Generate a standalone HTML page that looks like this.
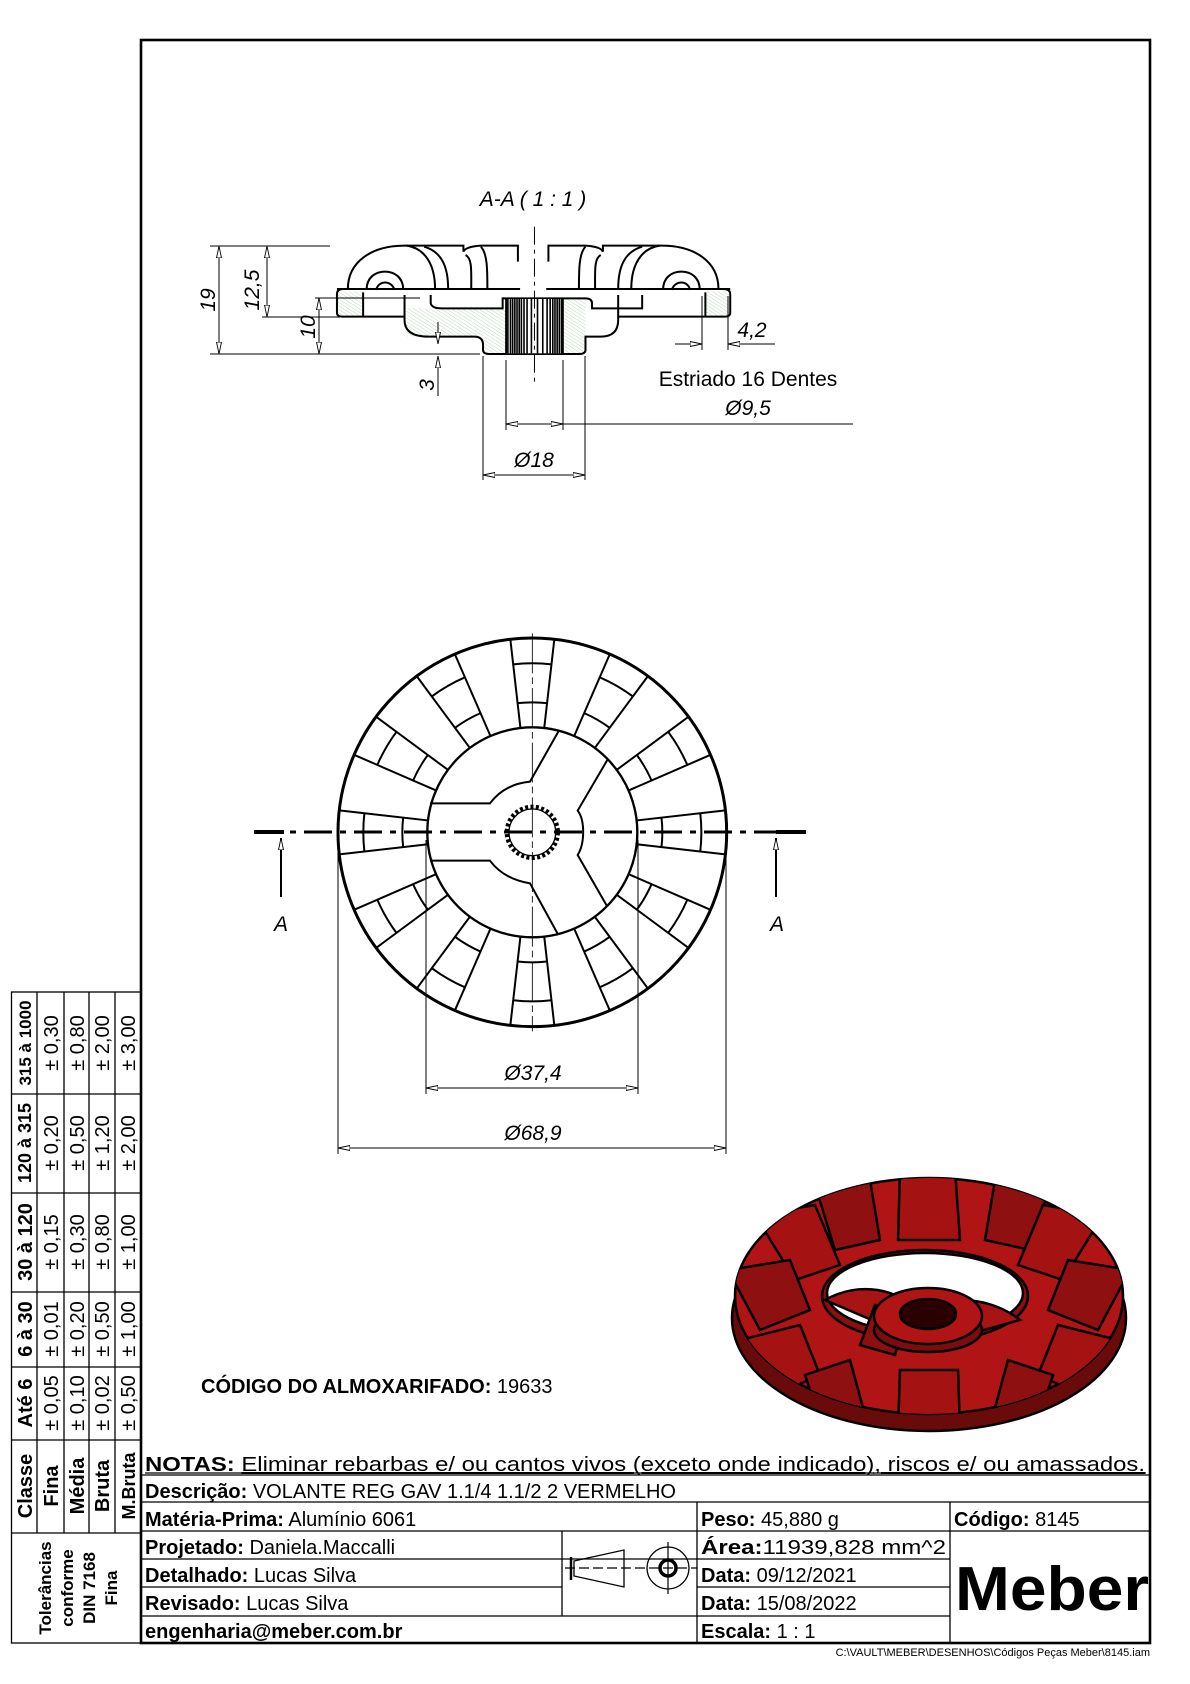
<!DOCTYPE html>
<html><head><meta charset="utf-8"><style>
html,body{margin:0;padding:0;background:#fff;}
svg{display:block;}
text{font-family:"Liberation Sans",Arial,sans-serif;fill:#000;}
.it{font-style:italic;}
.b{font-weight:bold;}
.ns{vector-effect:non-scaling-stroke;}
</style></head><body>
<svg width="1190" height="1684" viewBox="0 0 1190 1684" xmlns="http://www.w3.org/2000/svg">
<defs>
<marker id="ar" viewBox="0 0 12 6" refX="12" refY="3" markerWidth="12" markerHeight="6" orient="auto-start-reverse" markerUnits="userSpaceOnUse">
<path d="M0,0.5 L12,3 L0,5.5 Z" fill="#fff" stroke="#000" stroke-width="0.9"/>
</marker>
<pattern id="hat" width="8" height="8" patternUnits="userSpaceOnUse" patternTransform="rotate(-50)">
<line x1="0" y1="0" x2="0" y2="8" stroke="#4a9a4a" stroke-width="1"/>
</pattern>
<g id="rib">
<line x1="601.3" y1="324" x2="571" y2="57.7"/>
<line x1="672.7" y1="324" x2="703" y2="57.7"/>
<path d="M592.9,249.5 A390,390 0 0 1 681.1,249.5" fill="none"/>
<path d="M579.6,133.2 A507,507 0 0 1 694.4,133.2" fill="none"/>
</g>
<clipPath id="topc"><ellipse cx="929" cy="1296" rx="194" ry="118"/></clipPath>
</defs>

<!-- frame -->
<rect x="141" y="40" width="1009" height="1603" fill="none" stroke="#000" stroke-width="2.6"/>

<!-- SECTION VIEW -->
<text x="533" y="206" font-size="21" class="it" text-anchor="middle">A-A ( 1 : 1 )</text>
<g transform="translate(180 180) scale(0.436 0.3333)" fill="none" stroke="#000">
<rect x="362" y="335" width="58" height="72" fill="url(#hat)" stroke="none"/>
<rect x="520" y="385" width="228" height="84" fill="url(#hat)" stroke="none"/>
<rect x="695" y="470" width="53" height="50" fill="url(#hat)" stroke="none"/>
<rect x="878" y="357" width="52" height="163" fill="url(#hat)" stroke="none"/>
<rect x="1205" y="335" width="55" height="72" fill="url(#hat)" stroke="none"/>
<g stroke-width="2" class="ns">
<path class="ns" d="M385,327 C385,245 440,197 515,197 L650,197 L650,215 Q655,200 690,197 L775,197 L775,245"/>
<path class="ns" d="M1235,327 C1235,245 1180,197 1105,197 L970,197 L970,215 Q965,200 930,197 L845,197 L845,245"/>
<path class="ns" d="M520,197 C560,205 585,250 585,327 M560,200 C600,215 615,260 615,327 M655,225 C670,235 668,270 668,327 M690,200 C705,220 705,270 705,327"/>
<path class="ns" d="M1100,197 C1060,205 1035,250 1035,327 M1060,200 C1020,215 1005,260 1005,327 M965,225 C950,235 952,270 952,327 M930,200 C915,220 915,270 915,327"/>
<path class="ns" d="M428,330 C428,290 450,275 470,275 C490,275 512,290 512,330 M450,330 C455,300 485,300 492,330"/>
<path class="ns" d="M1192,330 C1192,290 1170,275 1150,275 C1130,275 1108,290 1108,330 M1170,330 C1165,300 1135,300 1128,330"/>
<path class="ns" d="M360,327 L780,327 M840,327 L1262,327"/>
<path class="ns" d="M375,327 Q360,327 360,342 L360,398 Q360,410 372,410 L515,410"/>
<path class="ns" d="M1245,327 Q1262,327 1262,342 L1262,398 Q1262,410 1250,410 L1005,410"/>
<path class="ns" d="M515,345 L515,420 C515,455 535,470 570,470 L675,470 C690,470 695,480 695,495 L695,510 Q695,522 710,522 L915,522 Q930,522 930,510 L930,470 L965,470 C990,470 1005,455 1005,420 L1005,345"/>
<path class="ns" d="M575,345 L575,370 Q578,385 600,385 L740,385 L740,355 L930,355 Q945,355 945,370 L945,385 L1060,385 L1060,345"/>
<path class="ns" d="M420,337 L420,408 M1205,337 L1205,408"/>
</g>
<rect x="748" y="357" width="130" height="163" fill="#fff" stroke="none"/>
<path class="ns" stroke-width="1.6" d="M752,357V520 M758,357V520 M763,357V520 M768,357V520 M773,357V520 M778,357V520 M783,357V520 M789,357V520 M796,357V520 M806,357V520 M820,357V520 M832,357V520 M842,357V520 M849,357V520 M855,357V520 M860,357V520 M865,357V520 M870,357V520 M875,357V520"/>
<path class="ns" stroke-width="2" d="M748,357V520 M878,357V520"/>
<line class="ns" x1="813" y1="140" x2="813" y2="605" stroke-width="1" stroke-dasharray="18 5 4 5"/>
</g>

<!-- section dims -->
<g stroke="#000" stroke-width="1" fill="none">
<line x1="210" y1="246" x2="330" y2="246"/>
<line x1="210" y1="354" x2="480" y2="354"/>
<line x1="262" y1="317" x2="340" y2="317"/>
<line x1="315" y1="298" x2="420" y2="298"/>
<line x1="219" y1="246" x2="219" y2="354" marker-start="url(#ar)" marker-end="url(#ar)"/>
<line x1="267" y1="246" x2="267" y2="317" marker-start="url(#ar)" marker-end="url(#ar)"/>
<line x1="319" y1="298" x2="319" y2="354" marker-start="url(#ar)" marker-end="url(#ar)"/>
<line x1="438" y1="322" x2="438" y2="344" marker-end="url(#ar)"/>
<line x1="438" y1="396" x2="438" y2="356" marker-end="url(#ar)"/>
<line x1="702" y1="296" x2="702" y2="350"/>
<line x1="728" y1="296" x2="728" y2="350"/>
<line x1="675" y1="344" x2="702" y2="344" marker-end="url(#ar)"/>
<line x1="775" y1="344" x2="728" y2="344" marker-end="url(#ar)"/>
<line x1="483" y1="356" x2="483" y2="480"/>
<line x1="585" y1="356" x2="585" y2="480"/>
<line x1="506" y1="360" x2="506" y2="430"/>
<line x1="563" y1="360" x2="563" y2="430"/>
<line x1="483" y1="475" x2="585" y2="475" marker-start="url(#ar)" marker-end="url(#ar)"/>
<line x1="506" y1="424" x2="563" y2="424" marker-start="url(#ar)" marker-end="url(#ar)"/>
<line x1="563" y1="424" x2="853" y2="424"/>
</g>
<text transform="translate(215 300) rotate(-90)" font-size="21" class="it" text-anchor="middle">19</text>
<text transform="translate(259 290) rotate(-90)" font-size="21" class="it" text-anchor="middle">12,5</text>
<text transform="translate(315 327) rotate(-90)" font-size="21" class="it" text-anchor="middle">10</text>
<text transform="translate(434 385) rotate(-90)" font-size="21" class="it" text-anchor="middle">3</text>
<text x="752" y="337" font-size="21" class="it" text-anchor="middle">4,2</text>
<text x="748" y="386" font-size="21" text-anchor="middle">Estriado 16 Dentes</text>
<text x="748" y="415" font-size="21" class="it" text-anchor="middle">Ø9,5</text>
<text x="534" y="467" font-size="21" class="it" text-anchor="middle">Ø18</text>

<!-- TOP VIEW -->
<g transform="translate(320 620) scale(0.33333)" fill="none" stroke="#000">
<g stroke-width="6">
<use href="#rib"/>
<use href="#rib" transform="rotate(30 637 637)"/>
<use href="#rib" transform="rotate(60 637 637)"/>
<use href="#rib" transform="rotate(90 637 637)"/>
<use href="#rib" transform="rotate(120 637 637)"/>
<use href="#rib" transform="rotate(150 637 637)"/>
<use href="#rib" transform="rotate(180 637 637)"/>
<use href="#rib" transform="rotate(210 637 637)"/>
<use href="#rib" transform="rotate(240 637 637)"/>
<use href="#rib" transform="rotate(270 637 637)"/>
<use href="#rib" transform="rotate(300 637 637)"/>
<use href="#rib" transform="rotate(330 637 637)"/>
</g>
<circle cx="637" cy="637" r="315" fill="#fff" stroke-width="7"/>
<circle cx="637" cy="637" r="583" stroke-width="9"/>
<g stroke-width="6">
<path d="M330,550 L510,550 C540,510 580,490 630,485 L715,335"/>
<path d="M330,722 L510,722 C540,762 580,782 630,790 L715,945"/>
<path d="M862,420 L773,572 C795,600 795,670 773,705 L862,860"/>
</g>
<circle cx="637" cy="637" r="76" stroke-width="14" stroke-dasharray="9 7"/>
<circle cx="637" cy="637" r="70" stroke-width="4"/>
<line x1="637" y1="40" x2="637" y2="1234" stroke-width="2.5" stroke-dasharray="120 12 20 12"/>
</g>
<!-- section line -->
<g stroke="#000" fill="none">
<line x1="254" y1="832" x2="806" y2="832" stroke-width="3" stroke-dasharray="28 8 6 8"/>
<line x1="254" y1="832" x2="284" y2="832" stroke-width="4"/>
<line x1="776" y1="832" x2="806" y2="832" stroke-width="4"/>
<line x1="281" y1="897" x2="281" y2="838" stroke-width="2" marker-end="url(#ar)"/>
<line x1="776" y1="897" x2="776" y2="838" stroke-width="2" marker-end="url(#ar)"/>
</g>
<text x="281" y="931" font-size="21" class="it" text-anchor="middle">A</text>
<text x="777" y="931" font-size="21" class="it" text-anchor="middle">A</text>
<!-- diameter dims -->
<g stroke="#000" stroke-width="1" fill="none">
<line x1="426" y1="840" x2="426" y2="1094"/>
<line x1="638" y1="840" x2="638" y2="1094"/>
<line x1="338" y1="834" x2="338" y2="1154"/>
<line x1="726" y1="834" x2="726" y2="1154"/>
<line x1="426" y1="1088" x2="638" y2="1088" marker-start="url(#ar)" marker-end="url(#ar)"/>
<line x1="338" y1="1148" x2="726" y2="1148" marker-start="url(#ar)" marker-end="url(#ar)"/>
</g>
<text x="533" y="1080" font-size="21" class="it" text-anchor="middle">Ø37,4</text>
<text x="533" y="1140" font-size="21" class="it" text-anchor="middle">Ø68,9</text>

<!-- 3D render -->
<g stroke="#000" stroke-width="2.5">
<ellipse cx="929" cy="1318" rx="197" ry="113" fill="#6a0b0b"/>
<ellipse cx="929" cy="1296" rx="194" ry="118" fill="#b01414"/>
</g>
<g clip-path="url(#topc)" stroke="#000" stroke-width="2.5" fill="#a51212">
<path d="M900,1170 L955,1170 L960,1240 L898,1240 Z"/>
<path d="M815,1185 L870,1180 L880,1240 L835,1250 Z" fill="#8e1010"/>
<path d="M995,1180 L1050,1185 L1030,1250 L985,1240 Z" fill="#8e1010"/>
<path d="M755,1215 L815,1205 L840,1265 L795,1280 Z"/>
<path d="M1043,1205 L1103,1215 L1063,1280 L1018,1265 Z"/>
<path d="M728,1270 L790,1260 L810,1310 L760,1330 Z" fill="#8e1010"/>
<path d="M1068,1260 L1130,1270 L1098,1330 L1048,1310 Z" fill="#8e1010"/>
<path d="M740,1340 L800,1325 L820,1375 L775,1395 Z"/>
<path d="M1058,1325 L1118,1340 L1083,1395 L1038,1375 Z"/>
<path d="M805,1375 L850,1360 L865,1415 L820,1420 Z" fill="#8e1010"/>
<path d="M1008,1360 L1053,1375 L1038,1420 L993,1415 Z" fill="#8e1010"/>
<path d="M900,1370 L958,1370 L960,1430 L898,1430 Z"/>
</g>
<g stroke="#000" stroke-width="2.5">
<ellipse cx="925" cy="1296" rx="103" ry="46" fill="#8c1010"/>
<ellipse cx="925" cy="1293" rx="98" ry="40" fill="#fff"/>
<path d="M825,1300 C860,1280 900,1290 915,1310 L960,1300 C990,1300 1010,1312 1020,1320 L930,1345 Z" fill="#a81313"/>
<path d="M875,1305 L905,1320 L895,1355 L860,1345 Z" fill="#8c1010"/>
<ellipse cx="928" cy="1330" rx="54" ry="22" fill="#7a0d0d"/>
<ellipse cx="928" cy="1316" rx="54" ry="28" fill="#b01414"/>
<ellipse cx="928" cy="1314" rx="28" ry="15" fill="#2a0000"/>
</g>

<text x="201" y="1393" font-size="20"><tspan class="b">CÓDIGO DO ALMOXARIFADO:</tspan> 19633</text>

<!-- title block -->
<g stroke="#000" stroke-width="1.3" fill="none">
<line x1="141" y1="1475" x2="1150" y2="1475"/>
<line x1="141" y1="1502" x2="1150" y2="1502"/>
<line x1="141" y1="1531" x2="1150" y2="1531"/>
<line x1="141" y1="1559" x2="950" y2="1559"/>
<line x1="141" y1="1587" x2="562" y2="1587"/>
<line x1="697" y1="1587" x2="950" y2="1587"/>
<line x1="141" y1="1616" x2="950" y2="1616"/>
<line x1="562" y1="1531" x2="562" y2="1616"/>
<line x1="697" y1="1502" x2="697" y2="1643"/>
<line x1="950" y1="1502" x2="950" y2="1643"/>
</g>
<text x="145" y="1471" font-size="20" textLength="1000" lengthAdjust="spacingAndGlyphs"><tspan class="b">NOTAS:</tspan> <tspan text-decoration="underline">Eliminar rebarbas e/ ou cantos vivos (exceto onde indicado), riscos e/ ou amassados.</tspan></text>
<line x1="145" y1="1473" x2="1146" y2="1473" stroke="#000" stroke-width="1.2"/>
<text x="145" y="1498" font-size="20"><tspan class="b">Descrição:</tspan> VOLANTE REG GAV 1.1/4 1.1/2 2 VERMELHO</text>
<text x="145" y="1526" font-size="20"><tspan class="b">Matéria-Prima:</tspan> Alumínio 6061</text>
<text x="145" y="1554" font-size="20"><tspan class="b">Projetado:</tspan> Daniela.Maccalli</text>
<text x="145" y="1582" font-size="20"><tspan class="b">Detalhado:</tspan> Lucas Silva</text>
<text x="145" y="1610" font-size="20"><tspan class="b">Revisado:</tspan> Lucas Silva</text>
<text x="145" y="1638" font-size="20" class="b">engenharia@meber.com.br</text>
<text x="701" y="1526" font-size="20"><tspan class="b">Peso:</tspan> 45,880 g</text>
<text x="701" y="1554" font-size="20" textLength="245" lengthAdjust="spacingAndGlyphs"><tspan class="b">Área:</tspan>11939,828 mm^2</text>
<text x="701" y="1582" font-size="20"><tspan class="b">Data:</tspan> 09/12/2021</text>
<text x="701" y="1610" font-size="20"><tspan class="b">Data:</tspan> 15/08/2022</text>
<text x="701" y="1638" font-size="20"><tspan class="b">Escala:</tspan> 1 : 1</text>
<text x="954" y="1526" font-size="20"><tspan class="b">Código:</tspan> 8145</text>
<text x="955" y="1610" font-size="62" class="b" textLength="194" lengthAdjust="spacingAndGlyphs">Meber</text>
<text x="1150" y="1656" font-size="11" text-anchor="end">C:\VAULT\MEBER\DESENHOS\Códigos Peças Meber\8145.iam</text>
<!-- projection symbol -->
<g stroke="#000" fill="none">
<path d="M574,1561 L624,1550 L624,1587 L574,1576 Z" stroke-width="1.3"/>
<line x1="571" y1="1557" x2="571" y2="1580" stroke-width="2.5"/>
<line x1="565" y1="1568" x2="697" y2="1568" stroke-width="1.2" stroke-dasharray="10 4"/>
<circle cx="668" cy="1568" r="21" stroke-width="1.3"/>
<circle cx="668" cy="1568" r="8" stroke-width="3.5"/>
<line x1="668" y1="1542" x2="668" y2="1594" stroke-width="1.2"/>
</g>

<!-- tolerance table -->
<g stroke="#000" stroke-width="1.3" fill="none">
<rect x="11.5" y="992" width="129.5" height="651"/>
<line x1="37" y1="992" x2="37" y2="1533"/>
<line x1="64" y1="992" x2="64" y2="1533"/>
<line x1="89" y1="992" x2="89" y2="1533"/>
<line x1="115" y1="992" x2="115" y2="1533"/>
<line x1="11.5" y1="1094" x2="141" y2="1094"/>
<line x1="11.5" y1="1193" x2="141" y2="1193"/>
<line x1="11.5" y1="1292" x2="141" y2="1292"/>
<line x1="11.5" y1="1367" x2="141" y2="1367"/>
<line x1="11.5" y1="1440" x2="141" y2="1440"/>
<line x1="11.5" y1="1533" x2="141" y2="1533"/>
</g>
<g font-size="20" text-anchor="middle">
<text transform="translate(31 1043) rotate(-90)" class="b" font-size="17">315 à 1000</text>
<text transform="translate(31 1143) rotate(-90)" class="b" font-size="18">120 à 315</text>
<text transform="translate(32 1242) rotate(-90)" class="b">30 à 120</text>
<text transform="translate(32 1329) rotate(-90)" class="b">6 à 30</text>
<text transform="translate(32 1403) rotate(-90)" class="b">Até 6</text>
<text transform="translate(32 1486) rotate(-90)" class="b">Classe</text>
<text transform="translate(58 1043) rotate(-90)">± 0,30</text>
<text transform="translate(84 1043) rotate(-90)">± 0,80</text>
<text transform="translate(109 1043) rotate(-90)">± 2,00</text>
<text transform="translate(135 1043) rotate(-90)">± 3,00</text>
<text transform="translate(58 1143) rotate(-90)">± 0,20</text>
<text transform="translate(84 1143) rotate(-90)">± 0,50</text>
<text transform="translate(109 1143) rotate(-90)">± 1,20</text>
<text transform="translate(135 1143) rotate(-90)">± 2,00</text>
<text transform="translate(58 1242) rotate(-90)">± 0,15</text>
<text transform="translate(84 1242) rotate(-90)">± 0,30</text>
<text transform="translate(109 1242) rotate(-90)">± 0,80</text>
<text transform="translate(135 1242) rotate(-90)">± 1,00</text>
<text transform="translate(58 1329) rotate(-90)">± 0,01</text>
<text transform="translate(84 1329) rotate(-90)">± 0,20</text>
<text transform="translate(109 1329) rotate(-90)">± 0,50</text>
<text transform="translate(135 1329) rotate(-90)">± 1,00</text>
<text transform="translate(58 1403) rotate(-90)">± 0,05</text>
<text transform="translate(84 1403) rotate(-90)">± 0,10</text>
<text transform="translate(109 1403) rotate(-90)">± 0,02</text>
<text transform="translate(135 1403) rotate(-90)">± 0,50</text>
<text transform="translate(58 1486) rotate(-90)" class="b">Fina</text>
<text transform="translate(84 1486) rotate(-90)" class="b">Média</text>
<text transform="translate(109 1486) rotate(-90)" class="b">Bruta</text>
<text transform="translate(135 1486) rotate(-90)" class="b" font-size="18">M.Bruta</text>
</g>
<g font-size="17" text-anchor="middle" font-weight="bold">
<text transform="translate(51 1588) rotate(-90)">Tolerâncias</text>
<text transform="translate(73 1588) rotate(-90)">conforme</text>
<text transform="translate(95 1588) rotate(-90)">DIN 7168</text>
<text transform="translate(117 1588) rotate(-90)">Fina</text>
</g>
</svg>
</body></html>
